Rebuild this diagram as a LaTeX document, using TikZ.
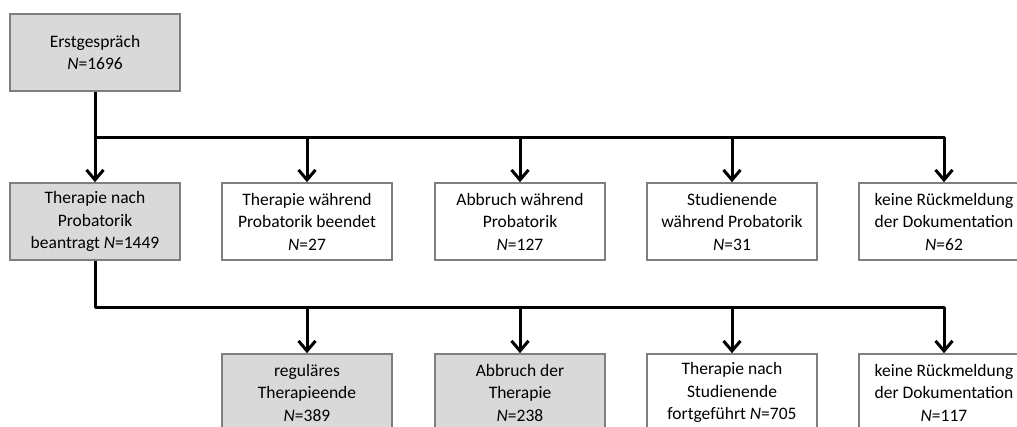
\documentclass[tikz,border=0pt]{standalone}
\usepackage{fontspec}
\setmainfont{Carlito}
\usetikzlibrary{arrows.meta}
\definecolor{boxgray}{HTML}{D9D9D9}
\definecolor{edgegray}{HTML}{7F7F7F}
\begin{document}
\begin{tikzpicture}[x=1pt,y=-1pt,
  box/.style={draw=edgegray,line width=1.6pt,fill=white,minimum width=170pt,minimum height=77pt,
    inner sep=0pt,align=center,font=\fontsize{17.5}{22.5}\selectfont},
  graybox/.style={box,fill=boxgray},
  wire/.style={line width=3pt,line join=round},
  conn/.style={wire,-{Straight Barb[length=10pt,width=17pt,line width=3pt]}}]
\clip (0,0) rectangle (1017,426);
\useasboundingbox (0,0) rectangle (1017,426);
% first level
\node[graybox] (a) at (95,52.5) {Erstgespräch\\\textit{N}=1696};
% second level
\node[graybox] (b1) at (95,221.5) {Therapie nach\\Probatorik\\beantragt \textit{N}=1449};
\node[box] (b2) at (307,221.5) {Therapie während\\Probatorik beendet\\\textit{N}=27};
\node[box] (b3) at (520,221.5) {Abbruch während\\Probatorik\\\textit{N}=127};
\node[box] (b4) at (732,221.5) {Studienende\\während Probatorik\\\textit{N}=31};
\node[box] (b5) at (944,221.5) {keine Rückmeldung\\der Dokumentation\\\textit{N}=62};
% third level
\node[graybox] (c1) at (307,392.5) {reguläres\\Therapieende\\\textit{N}=389};
\node[graybox] (c2) at (520,392.5) {Abbruch der\\Therapie\\\textit{N}=238};
\node[box] (c3) at (732,392.5) {Therapie nach\\Studienende\\fortgeführt \textit{N}=705};
\node[box] (c4) at (944,392.5) {keine Rückmeldung\\der Dokumentation\\\textit{N}=117};
% branch points
\coordinate (j1) at (95,137);
\coordinate (j2) at (95,307);
% connectors to the second level
\draw[conn] (a.south) -- (b1.north);
\draw[conn] (j1) -| (b5.north);
\foreach \n in {b2,b3,b4}
  \draw[conn] (\n.north |- j1) -- (\n.north);
% connectors to the third level
\draw[conn] (b1.south) -- (j2) -| (c4.north);
\foreach \n in {c1,c2,c3}
  \draw[conn] (\n.north |- j2) -- (\n.north);
\end{tikzpicture}
\end{document}
